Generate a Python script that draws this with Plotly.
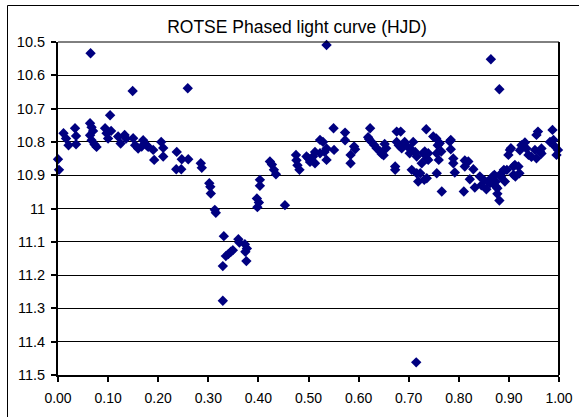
import plotly.graph_objects as go

# Phase (x) and magnitude (y)
phase = [
    0.000, 0.002, 0.011, 0.016, 0.021, 0.034, 0.036, 0.036, 0.064, 0.065,
    0.067, 0.070, 0.064, 0.067, 0.073, 0.077, 0.094, 0.097, 0.100, 0.104,
    0.106, 0.120, 0.125, 0.133, 0.136, 0.149, 0.150, 0.154, 0.160, 0.167,
    0.170, 0.177, 0.180, 0.190, 0.192, 0.206, 0.210, 0.210, 0.237, 0.236,
    0.246, 0.247, 0.259, 0.260, 0.285, 0.287,
    0.302, 0.304, 0.305, 0.313, 0.315, 0.331, 0.329, 0.329, 0.335, 0.340,
    0.345, 0.349, 0.360, 0.362, 0.373, 0.374, 0.376, 0.377, 0.397, 0.398,
    0.401, 0.403, 0.403, 0.423, 0.427, 0.431, 0.435, 0.453, 0.475, 0.476,
    0.478, 0.482, 0.496, 0.500, 0.503, 0.509, 0.513, 0.513, 0.523, 0.523,
    0.529, 0.532, 0.536, 0.536, 0.536, 0.550, 0.551, 0.573, 0.573, 0.584,
    0.584, 0.591, 0.593,
    0.619, 0.623, 0.621, 0.626, 0.631, 0.636, 0.643, 0.646, 0.650, 0.652,
    0.655, 0.673, 0.673, 0.676, 0.684, 0.676, 0.680, 0.686, 0.692, 0.696,
    0.702, 0.703, 0.706, 0.709, 0.713, 0.716, 0.716, 0.715, 0.719, 0.723,
    0.726, 0.729, 0.731, 0.732, 0.735, 0.736, 0.736, 0.739, 0.739, 0.749,
    0.755, 0.756, 0.756, 0.758, 0.760, 0.762, 0.765, 0.766, 0.782, 0.784,
    0.784, 0.789, 0.789, 0.792, 0.810, 0.812, 0.812, 0.819, 0.822, 0.829,
    0.832, 0.842, 0.845, 0.850, 0.855, 0.858, 0.862, 0.864, 0.864, 0.868,
    0.871, 0.874, 0.874, 0.877, 0.877, 0.881, 0.881, 0.884, 0.885, 0.890,
    0.892, 0.896, 0.899, 0.902, 0.904, 0.909, 0.909, 0.913, 0.912, 0.919,
    0.921, 0.922, 0.925, 0.932, 0.935, 0.939, 0.945, 0.952, 0.955, 0.958,
    0.962, 0.955, 0.965, 0.965, 0.982, 0.987, 0.989, 0.992, 0.995, 0.998,
]
magnitude = [
    10.852, 10.884, 10.774, 10.790, 10.810, 10.759, 10.782, 10.807, 10.744, 10.534,
    10.756, 10.767, 10.780, 10.795, 10.808, 10.815, 10.759, 10.774, 10.790, 10.720,
    10.767, 10.784, 10.805, 10.779, 10.790, 10.647, 10.789, 10.810, 10.820, 10.814,
    10.795, 10.810, 10.815, 10.824, 10.854, 10.800, 10.818, 10.844, 10.830, 10.882,
    10.882, 10.852, 10.639, 10.852, 10.864, 10.878,
    10.924, 10.935, 10.955, 11.004, 11.013, 11.083, 11.173, 11.277, 11.143, 11.137,
    11.130, 11.125, 11.092, 11.102, 11.107, 11.130, 11.158, 11.120, 10.970, 10.996,
    10.982, 10.914, 10.932, 10.859, 10.868, 10.884, 10.897, 10.990, 10.839, 10.855,
    10.870, 10.884, 10.844, 10.850, 10.860, 10.844, 10.864, 10.830, 10.794, 10.834,
    10.800, 10.830, 10.854, 10.509, 10.820, 10.759, 10.824, 10.772, 10.795, 10.839,
    10.864, 10.814, 10.822,
    10.786, 10.759, 10.792, 10.800, 10.809, 10.819, 10.829, 10.836, 10.840, 10.806,
    10.819, 10.874, 10.884, 10.769, 10.769, 10.800, 10.810, 10.819, 10.800, 10.812,
    10.834, 10.820, 10.884, 10.800, 10.830, 10.844, 10.894, 11.462, 10.919, 10.894,
    10.864, 10.834, 10.914, 10.829, 10.762, 10.850, 10.909, 10.834, 10.854, 10.784,
    10.790, 10.834, 10.894, 10.810, 10.854, 10.804, 10.829, 10.949, 10.799, 10.794,
    10.822, 10.850, 10.864, 10.892, 10.949, 10.856, 10.874, 10.859, 10.912, 10.882,
    10.937, 10.904, 10.930, 10.914, 10.942, 10.919, 10.924, 10.552, 10.914, 10.904,
    10.899, 10.919, 10.934, 10.939, 10.956, 10.976, 10.642, 10.904, 10.894, 10.884,
    10.919, 10.884, 10.839, 10.824, 10.819, 10.874, 10.899, 10.904, 10.869, 10.874,
    10.894, 10.825, 10.810, 10.802, 10.820, 10.839, 10.845, 10.824, 10.779, 10.769,
    10.829, 10.849, 10.835, 10.820, 10.800, 10.764, 10.794, 10.814, 10.839, 10.824,
]

x_ticks = [0.0, 0.1, 0.2, 0.3, 0.4, 0.5, 0.6, 0.7, 0.8, 0.9, 1.0]
x_labels = ["0.00", "0.10", "0.20", "0.30", "0.40", "0.50", "0.60", "0.70", "0.80", "0.90", "1.00"]
y_ticks = [10.5, 10.6, 10.7, 10.8, 10.9, 11.0, 11.1, 11.2, 11.3, 11.4, 11.5]
y_labels = ["10.5", "10.6", "10.7", "10.8", "10.9", "11", "11.1", "11.2", "11.3", "11.4", "11.5"]

FONT = "Arial, Liberation Sans, sans-serif"

fig = go.Figure()
fig.add_trace(go.Scatter(
    x=phase, y=magnitude, mode="markers",
    marker=dict(symbol="diamond", size=8, color="#000080",
                line=dict(width=0)),
    showlegend=False, cliponaxis=False, hoverinfo="skip",
))

W, H = 579, 417
L, R, T, B = 58, 20, 42, 42
pw, ph = W - L - R, H - T - B

fig.update_layout(
    template="none",
    width=W, height=H, autosize=False,
    margin=dict(l=L, r=R, t=T, b=B, pad=0),
    paper_bgcolor="white", plot_bgcolor="white",
    font=dict(family=FONT, color="black", size=14),
    title=dict(text="ROTSE Phased light curve (HJD)", x=297 / W, xref="container",
               xanchor="center", y=1 - 26.5 / H, yref="container", yanchor="middle",
               font=dict(size=17.5, family=FONT, color="black")),
    xaxis=dict(range=[0, 1], tickvals=x_ticks, ticktext=x_labels, automargin=False,
               showgrid=False, zeroline=False, showline=True, linecolor="black",
               linewidth=2, ticks="outside", ticklen=5, tickwidth=2, tickcolor="black",
               tickfont=dict(size=14, family=FONT), ticklabelstandoff=4),
    yaxis=dict(range=[11.5, 10.5], tickvals=y_ticks, ticktext=y_labels, automargin=False,
               showgrid=True, gridcolor="black", gridwidth=1, zeroline=False,
               showline=True, linecolor="black", linewidth=2, ticks="outside",
               ticklen=5, tickwidth=2, tickcolor="black",
               tickfont=dict(size=14.5, family=FONT), ticklabelstandoff=3),
    shapes=[
        # plot-area top (thin) and right (thick) borders
        dict(type="line", xref="x domain", yref="y domain", x0=0, x1=1, y0=1, y1=1,
             line=dict(color="black", width=1)),
        dict(type="line", xref="x domain", yref="y domain", x0=1, x1=1, y0=0, y1=1,
             line=dict(color="black", width=2)),
        # chart-area outer border (left and top visible)
        dict(type="line", xref="paper", yref="paper",
             x0=(7.5 - L) / pw, x1=(7.5 - L) / pw, y0=(H - B - 430) / ph, y1=(H - B - 5.5) / ph,
             line=dict(color="black", width=1)),
        dict(type="line", xref="paper", yref="paper",
             x0=(7.5 - L) / pw, x1=(600 - L) / pw, y0=(H - B - 5.5) / ph, y1=(H - B - 5.5) / ph,
             line=dict(color="black", width=1)),
    ],
)

fig.write_html(
    "out.html",
    config={"displayModeBar": False, "responsive": False},
    post_script="document.body.style.margin='0';document.body.style.overflow='hidden';"
                "document.documentElement.style.overflow='hidden';",
)
